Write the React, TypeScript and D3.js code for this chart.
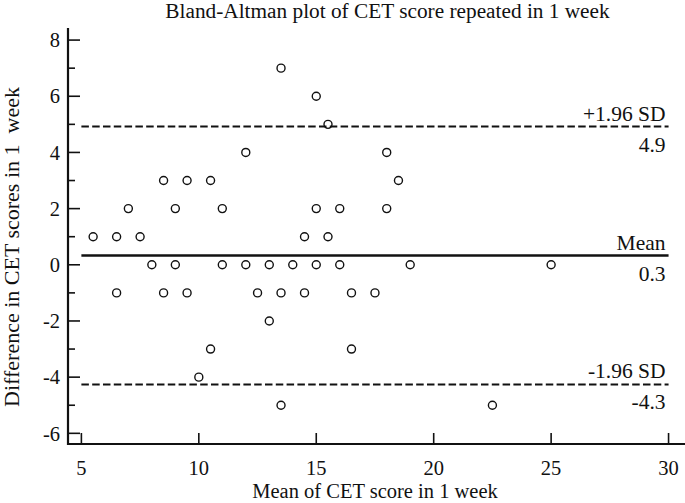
import React from "react";
import * as d3 from "d3";

const W = 685;
const H = 503;

// Points: [mean of CET score, difference]
const meanScores: number[] = [
  13.5,
  15,
  15.5,
  12, 18,
  8.5, 9.5, 10.5, 18.5,
  7, 9, 11, 15, 16, 18,
  5.5, 6.5, 7.5, 14.5, 15.5,
  8, 9, 11, 12, 13, 14, 15, 16, 19, 25,
  6.5, 8.5, 9.5, 12.5, 13.5, 14.5, 16.5, 17.5,
  13,
  10.5, 16.5,
  10,
  13.5, 22.5,
];
const differences: number[] = [
  7,
  6,
  5,
  4, 4,
  3, 3, 3, 3,
  2, 2, 2, 2, 2, 2,
  1, 1, 1, 1, 1,
  0, 0, 0, 0, 0, 0, 0, 0, 0, 0,
  -1, -1, -1, -1, -1, -1, -1, -1,
  -2,
  -3, -3,
  -4,
  -5, -5,
];

const meanDiff = 0.33;
const upperLoA = 4.92;
const lowerLoA = -4.26;
const refLines = [
  { value: upperLoA, top: "+1.96 SD", bottom: "4.9", dashed: true },
  { value: meanDiff, top: "Mean", bottom: "0.3", dashed: false },
  { value: lowerLoA, top: "-1.96 SD", bottom: "-4.3", dashed: true },
];

const xTicks = [5, 10, 15, 20, 25, 30];
const yTicks = d3.range(-6, 9, 1);
const yLabelTicks = [-6, -4, -2, 0, 2, 4, 6, 8];

const title = "Bland-Altman plot of CET score repeated in 1 week";
const xTitle = "Mean of CET score in 1 week";
const yTitle = "Difference in CET scores in 1  week";

const FONT = "'Liberation Serif', 'Times New Roman', serif";

export default function App() {
  const x = d3.scaleLinear().domain([4.43, 30.7]).range([68, 685]);
  const y = d3.scaleLinear().domain([-6.38, 8.43]).range([444, 28]);
  const [x0, x1] = x.range();
  const [yb, yt] = y.range();
  const lineX0 = x(5);
  const lineX1 = x(30);

  return (
    <svg width={W} height={H} style={{ display: "block", position: "absolute", left: 0, top: 0 }}
      fontFamily={FONT}>
      <rect width={W} height={H} fill="#fff" />
      <text x={387.5} y={17.5} fontSize={21.3} textAnchor="middle" fill="#111">{title}</text>

      {/* reference lines */}
      {refLines.map((r) => (
        <g key={r.top}>
          <line x1={lineX0} x2={lineX1} y1={y(r.value)} y2={y(r.value)}
            stroke="#111" strokeWidth={r.dashed ? 2 : 2.6}
            strokeDasharray={r.dashed ? "7.5,3.3" : undefined} />
          <text x={lineX1 - 3} y={y(r.value) - 6} textAnchor="end" fontSize={21.5} fill="#111">{r.top}</text>
          <text x={lineX1 - 3} y={y(r.value) + 25} textAnchor="end" fontSize={21.5} fill="#111">{r.bottom}</text>
        </g>
      ))}

      {/* points */}
      {meanScores.map((m, i) => (
        <circle key={i} cx={x(m)} cy={y(differences[i])} r={4}
          fill="none" stroke="#111" strokeWidth={1.4} />
      ))}

      {/* y axis */}
      <line x1={x0} x2={x0} y1={yt} y2={yb + 1} stroke="#111" strokeWidth={2.2} />
      {yTicks.map((t) => {
        const major = yLabelTicks.includes(t);
        return (
          <g key={t}>
            <line x1={x0} x2={x0 + (major ? 12 : 7)} y1={y(t)} y2={y(t)} stroke="#111" strokeWidth={1.6} />
            {major && (
              <text x={x0 - 8} y={y(t)} dy="0.35em" textAnchor="end" fontSize={20.5} fill="#111">{t}</text>
            )}
          </g>
        );
      })}

      {/* x axis */}
      <line x1={x0 - 1} x2={x1} y1={yb} y2={yb} stroke="#111" strokeWidth={2.2} />
      {xTicks.map((t) => (
        <g key={t}>
          <line x1={x(t)} x2={x(t)} y1={yb} y2={yb - 11} stroke="#111" strokeWidth={1.6} />
          <text x={x(t)} y={yb + 31} textAnchor="middle" fontSize={20.5} fill="#111">{t}</text>
        </g>
      ))}

      <text x={375} y={498} textAnchor="middle" fontSize={20.5} fill="#111">{xTitle}</text>
      <text transform={`translate(19, 247) rotate(-90)`} textAnchor="middle" fontSize={22}
        fill="#111" style={{ whiteSpace: "pre" }}>{yTitle}</text>
    </svg>
  );
}
